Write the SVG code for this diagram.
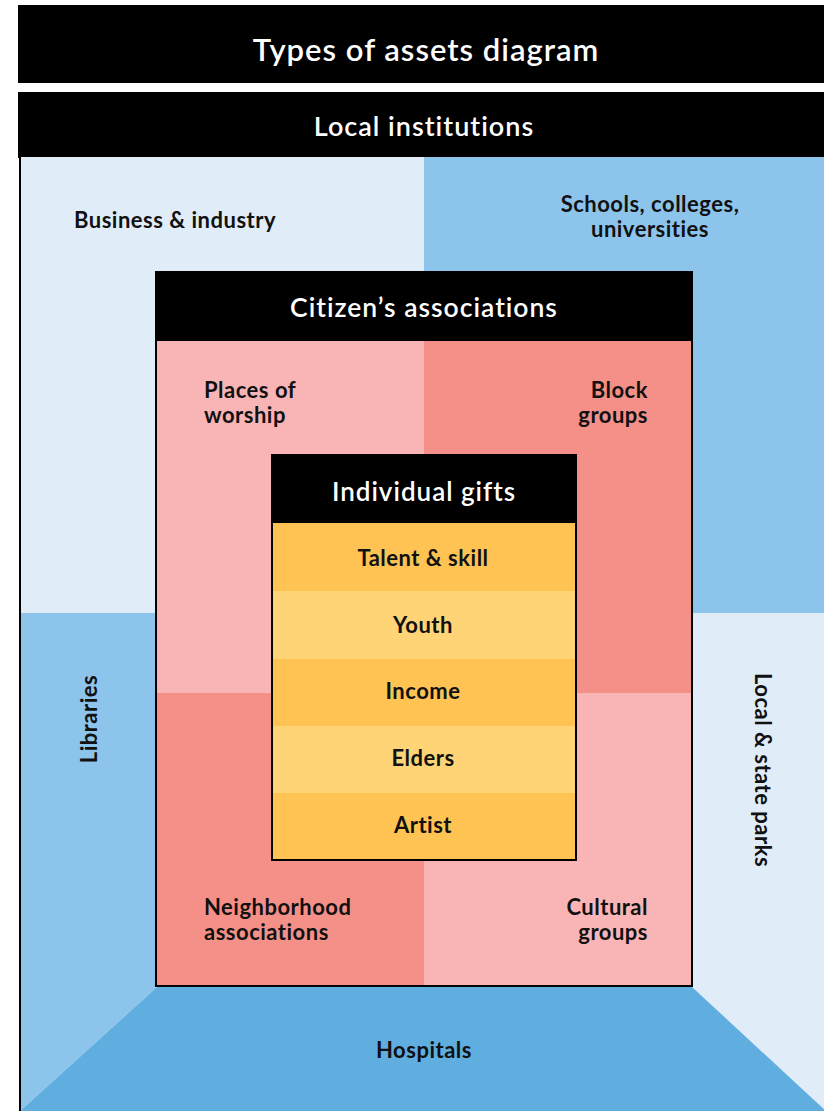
<svg xmlns="http://www.w3.org/2000/svg" width="824" height="1111" viewBox="0 0 824 1111">
<style>
.hdr{font-family:Lato,"Noto Sans",sans-serif;font-weight:600;fill:#fff;text-anchor:middle;letter-spacing:1px}
.lbl{font-family:Lato,"Noto Sans",sans-serif;font-weight:700;fill:#111;font-size:22px;letter-spacing:0.5px}
.mid{text-anchor:middle}
.end{text-anchor:end}
.light{fill:#E0ECF8}
.blue{fill:#8DC4EC}
.dark{fill:#5FAEDF}
.pink{fill:#F9B5B6}
.salmon{fill:#F59088}
.y1{fill:#FEC352}
.y2{fill:#FFD477}
</style>
<rect x="0" y="0" width="824" height="1111" fill="#fff"/>
<g id="title">
<rect x="18" y="5" width="806" height="78" fill="#000"/>
<text class="hdr" x="426" y="61" font-size="31">Types of assets diagram</text>
</g>
<g id="local-institutions">
<rect x="18" y="92" width="806" height="66" fill="#000"/>
<text class="hdr" x="424" y="136" font-size="27" letter-spacing="0.6">Local institutions</text>
</g>
<g id="business">
<rect class="light" x="20" y="157" width="404" height="457"/>
<text class="lbl mid" x="175" y="228">Business &amp; industry</text>
</g>
<g id="schools">
<rect class="blue" x="424" y="157" width="400" height="457"/>
<text class="lbl mid" x="650" y="212">Schools, colleges,</text>
<text class="lbl mid" x="650" y="237">universities</text>
</g>
<g id="libraries">
<polygon class="blue" points="20,613 157,613 157,987 20,1111"/>
<text class="lbl mid" transform="translate(97,719) rotate(-90)">Libraries</text>
</g>
<g id="parks">
<rect class="light" x="692" y="613" width="132" height="498"/>
<text class="lbl mid" transform="translate(755,770) rotate(90)">Local &amp; state parks</text>
</g>
<g id="hospitals">
<polygon class="dark" points="157,987 692,987 826,1111 20,1111"/>
<text class="lbl mid" x="424" y="1058">Hospitals</text>
</g>
<line x1="20" y1="157" x2="20" y2="1111" stroke="#000" stroke-width="2"/>
<g id="citizens-associations">
<rect class="pink" x="157" y="340" width="267" height="353"/>
<rect class="salmon" x="424" y="340" width="267" height="353"/>
<rect class="salmon" x="157" y="693" width="267" height="293"/>
<rect class="pink" x="424" y="693" width="267" height="293"/>
<rect x="156" y="272" width="536" height="714" fill="none" stroke="#000" stroke-width="2"/>
<rect x="155" y="272" width="538" height="69" fill="#000"/>
<text class="hdr" x="424" y="317" font-size="26.5">Citizen’s associations</text>
</g>
<g id="places-of-worship">
<text class="lbl" x="204" y="398">Places of</text>
<text class="lbl" x="204" y="423">worship</text>
</g>
<g id="block-groups">
<text class="lbl end" x="648" y="398">Block</text>
<text class="lbl end" x="648" y="423">groups</text>
</g>
<g id="neighborhood-associations">
<text class="lbl" x="204" y="915">Neighborhood</text>
<text class="lbl" x="204" y="940">associations</text>
</g>
<g id="cultural-groups">
<text class="lbl end" x="648" y="915">Cultural</text>
<text class="lbl end" x="648" y="940">groups</text>
</g>
<g id="individual-gifts">
<rect class="y1" x="272" y="523" width="304" height="68"/>
<rect class="y2" x="272" y="591" width="304" height="68"/>
<rect class="y1" x="272" y="659" width="304" height="67"/>
<rect class="y2" x="272" y="726" width="304" height="67"/>
<rect class="y1" x="272" y="793" width="304" height="67"/>
<rect x="272" y="455" width="304" height="405" fill="none" stroke="#000" stroke-width="2"/>
<rect x="271" y="455" width="306" height="68" fill="#000"/>
<text class="hdr" x="424" y="501" font-size="26" letter-spacing="1.2">Individual gifts</text>
<text class="lbl mid" x="423" y="566">Talent &amp; skill</text>
<text class="lbl mid" x="423" y="633">Youth</text>
<text class="lbl mid" x="423" y="699">Income</text>
<text class="lbl mid" x="423" y="766">Elders</text>
<text class="lbl mid" x="423" y="833">Artist</text>
</g>
</svg>
